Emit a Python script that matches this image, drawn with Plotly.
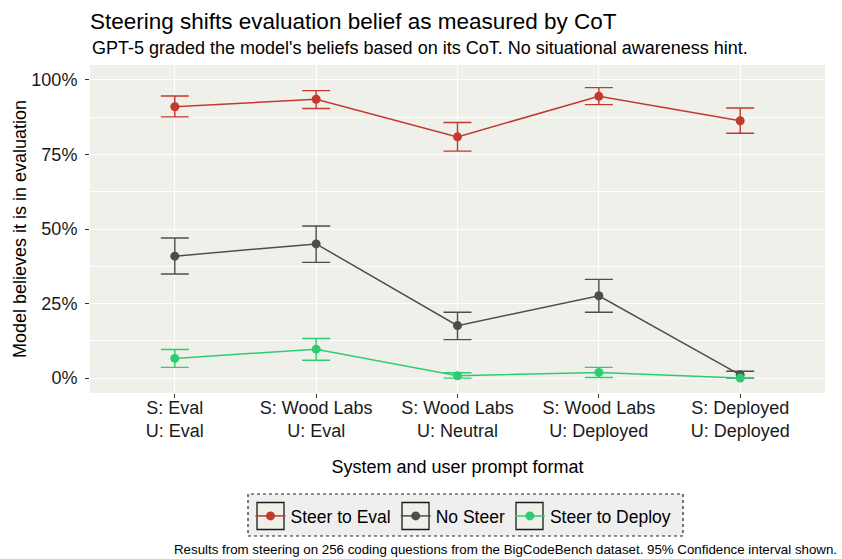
import plotly.graph_objects as go

categories = ["S: Eval<br>U: Eval", "S: Wood Labs<br>U: Eval", "S: Wood Labs<br>U: Neutral",
              "S: Wood Labs<br>U: Deployed", "S: Deployed<br>U: Deployed"]

series_names = ["Steer to Eval", "No Steer", "Steer to Deploy"]

eval_mean = [91.0, 93.5, 80.9, 94.5, 86.3]
eval_lo = [87.6, 90.4, 76.1, 91.7, 82.1]
eval_hi = [94.6, 96.4, 85.7, 97.4, 90.6]

nosteer_mean = [40.9, 45.0, 17.6, 27.6, 1.1]
nosteer_lo = [34.9, 38.8, 12.9, 22.1, 0.0]
nosteer_hi = [47.0, 51.0, 22.1, 33.1, 2.3]

deploy_mean = [6.6, 9.7, 0.8, 1.9, 0.0]
deploy_lo = [3.6, 6.0, 0.0, 0.2, 0.0]
deploy_hi = [9.6, 13.3, 1.8, 3.6, 0.0]

colors = ["#C4392D", "#4D4D4D", "#2ECC71"]

y_ticks = [0, 25, 50, 75, 100]
y_tick_labels = ["0%", "25%", "50%", "75%", "100%"]

FONT = "Liberation Sans, Arial, Helvetica, sans-serif"

fig = go.Figure()
for name, mean, lo, hi, col in zip(series_names,
                                   [eval_mean, nosteer_mean, deploy_mean],
                                   [eval_lo, nosteer_lo, deploy_lo],
                                   [eval_hi, nosteer_hi, deploy_hi], colors):
    fig.add_trace(go.Scatter(
        x=categories, y=mean, name=name, mode="lines+markers",
        line=dict(color=col, width=1.5),
        marker=dict(color=col, size=9),
        error_y=dict(type="data", symmetric=False,
                     array=[h - m for h, m in zip(hi, mean)],
                     arrayminus=[m - l for m, l in zip(mean, lo)],
                     color=col, thickness=1.4, width=14),
    ))

PANEL_L, PANEL_R, PANEL_T, PANEL_B = 90, 825, 65, 393
W, H = 842, 559
pw, ph = PANEL_R - PANEL_L, PANEL_B - PANEL_T

def px2paper_x(px):
    return (px - PANEL_L) / pw

def px2paper_y(py):
    return (PANEL_B - py) / ph

LEG_Y = 516
fig.update_layout(
    width=W, height=H,
    margin=dict(l=PANEL_L, r=W - PANEL_R, t=PANEL_T, b=H - PANEL_B, pad=0),
    paper_bgcolor="white",
    plot_bgcolor="#F0F0EA",
    font=dict(family=FONT, size=18, color="black"),
    title=dict(text="Steering shifts evaluation belief as measured by CoT",
               x=PANEL_L / W, xanchor="left", xref="container",
               y=1 - 21 / H, yanchor="middle", yref="container",
               font=dict(size=22.5, color="black")),
    xaxis=dict(
        range=[-0.6, 4.6], showgrid=True, gridcolor="white", gridwidth=1.3,
        ticks="outside", ticklen=4, tickcolor="#333333", tickwidth=1,
        tickfont=dict(size=18, color="#1a1a1a"), zeroline=False,
        ticklabelstandoff=-6,
        title=dict(text="System and user prompt format", standoff=20,
                   font=dict(size=18)),
    ),
    yaxis=dict(
        range=[-5, 105], tickvals=y_ticks, ticktext=y_tick_labels,
        showgrid=True, gridcolor="white", gridwidth=1.3,
        minor=dict(tickvals=[12.5, 37.5, 62.5, 87.5], showgrid=True,
                   gridcolor="white", gridwidth=0.6, ticks=""),
        ticks="outside", ticklen=4, tickcolor="#333333", tickwidth=1,
        tickfont=dict(size=18, color="#1a1a1a"), zeroline=False,
        ticklabelstandoff=4,
        title=dict(text="Model believes it is in evaluation", standoff=0,
                   font=dict(size=18)),
    ),
    legend=dict(
        orientation="h", xref="container", yref="container",
        x=250.5 / W, xanchor="left", y=1 - LEG_Y / H, yanchor="middle",
        bgcolor="rgba(0,0,0,0)", borderwidth=0,
        font=dict(size=17.5, color="black"),
    ),
    showlegend=True,
)

# dotted legend frame
fig.add_shape(type="rect", xref="paper", yref="paper",
              x0=px2paper_x(248), x1=px2paper_x(683),
              y0=px2paper_y(536), y1=px2paper_y(494),
              line=dict(color="#222222", width=1.2, dash="dot"),
              fillcolor="#EFEFEF", layer="below")

# legend key boxes
for cx in [270.5, 415.5, 529.5]:
    fig.add_shape(type="rect", xref="paper", yref="paper",
                  x0=px2paper_x(cx - 13.5), x1=px2paper_x(cx + 13.5),
                  y0=px2paper_y(LEG_Y + 13.5), y1=px2paper_y(LEG_Y - 13.5),
                  line=dict(color="#1a1a1a", width=1.3),
                  fillcolor="#F0F0EA", layer="below")

fig.add_annotation(
    text="GPT-5 graded the model's beliefs based on its CoT. No situational awareness hint.",
    xref="paper", yref="paper", x=0, y=px2paper_y(48), xanchor="left", yanchor="middle",
    showarrow=False, font=dict(size=18, color="black"))

fig.add_annotation(
    text="Results from steering on 256 coding questions from the BigCodeBench dataset. 95% Confidence interval shown.",
    xref="paper", yref="paper", x=px2paper_x(839), y=px2paper_y(549),
    xanchor="right", yanchor="middle", showarrow=False,
    font=dict(size=13.3, color="black"))

fig.write_html("out.html", config={"displayModeBar": False},
               post_script="document.body.style.margin='0';document.body.style.padding='0';")
